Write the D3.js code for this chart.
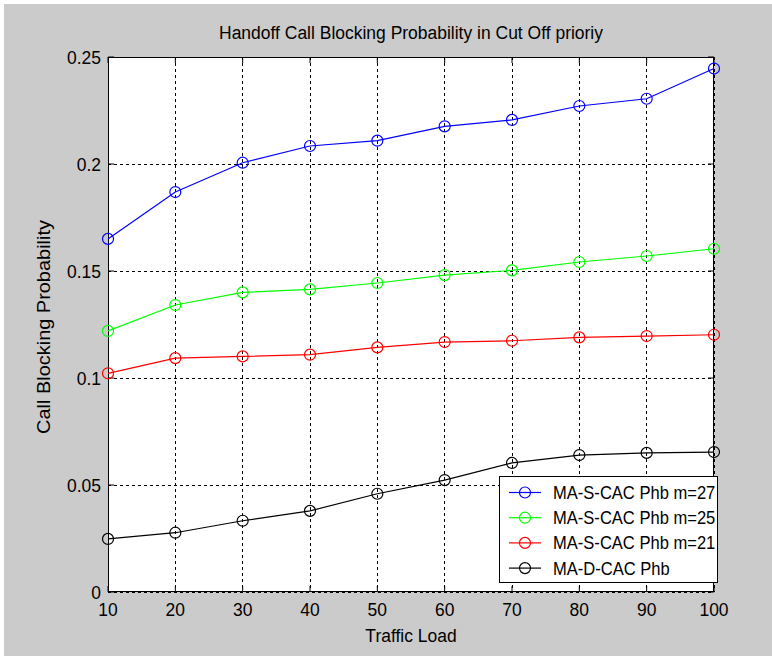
<!DOCTYPE html>
<html><head><meta charset="utf-8">
<script src="https://cdn.jsdelivr.net/npm/d3@7"></script>
<style>body{margin:0;background:#fff}svg{display:block}text{font-family:"Liberation Sans",Arial,sans-serif;fill:#000}</style>
</head><body>
<script>
const trafficLoad = [10,20,30,40,50,60,70,80,90,100];
const phb27 = [0.165,0.1869,0.2006,0.2084,0.2109,0.2176,0.2206,0.2271,0.2305,0.2446];
const phb25 = [0.122,0.1341,0.1400,0.1414,0.1444,0.1481,0.1503,0.1542,0.1570,0.1604];
const phb21 = [0.1022,0.1093,0.1101,0.1109,0.1143,0.1168,0.1174,0.1190,0.1196,0.1202];
const dcac  = [0.0248,0.0277,0.0333,0.0379,0.0459,0.0523,0.0603,0.0640,0.0650,0.0654];
const seriesNames = ["MA-S-CAC Phb m=27","MA-S-CAC Phb m=25","MA-S-CAC Phb m=21","MA-D-CAC Phb"];
const seriesColors = ["#0000ff","#00ff00","#ff0000","#000000"];
const xTicks = [10,20,30,40,50,60,70,80,90,100];
const yTicks = [0,0.05,0.1,0.15,0.2,0.25];
const yTickLabels = ["0","0.05","0.1","0.15","0.2","0.25"];
const title = "Handoff Call Blocking Probability in Cut Off prioriy";
const xLabel = "Traffic Load";
const yLabel = "Call Blocking Probability";

const W=772,H=656;
const L=108,R=714,T=57,B=592;
const SX=0.92;
const svg=d3.select("body").append("svg").attr("width",W).attr("height",H);
svg.append("rect").attr("width",W).attr("height",H).attr("fill","#fff");
svg.append("rect").attr("x",4).attr("y",4).attr("width",W-4).attr("height",H-4).attr("fill","#cbcbcb");

const x=d3.scaleLinear().domain([10,100]).range([L,R]);
const y=d3.scaleLinear().domain([0,0.25]).range([B,T]);

function txt(str,px,py,size,anchor,rot,sx){
  let tr=`translate(${px},${py})`+(rot?` rotate(${rot})`:"")+` scale(${sx||SX},1)`;
  return svg.append("text").attr("transform",tr).attr("text-anchor",anchor||"start").attr("font-size",size).text(str);
}

svg.append("rect").attr("x",L).attr("y",T).attr("width",R-L).attr("height",B-T).attr("fill","#fff");

// grid
const g=svg.append("g");
g.selectAll("line.gx").data(xTicks).join("line").attr("x1",d=>x(d)).attr("x2",d=>x(d)).attr("y1",T).attr("y2",B)
 .attr("stroke","#000").attr("stroke-width",1).attr("stroke-dasharray","3,3").attr("shape-rendering","crispEdges");
g.selectAll("line.gy").data(yTicks).join("line").attr("class","gy").attr("y1",d=>Math.round(y(d))+0.5).attr("y2",d=>Math.round(y(d))+0.5).attr("x1",L).attr("x2",R)
 .attr("stroke","#000").attr("stroke-width",1).attr("stroke-dasharray","3,3");

// ticks inward
const tk=6;
xTicks.forEach(d=>{
  svg.append("line").attr("x1",x(d)).attr("x2",x(d)).attr("y1",B).attr("y2",B-tk).attr("stroke","#000");
  svg.append("line").attr("x1",x(d)).attr("x2",x(d)).attr("y1",T).attr("y2",T+tk).attr("stroke","#000");
});
yTicks.forEach(d=>{
  svg.append("line").attr("x1",L).attr("x2",L+tk).attr("y1",y(d)).attr("y2",y(d)).attr("stroke","#000");
  svg.append("line").attr("x1",R).attr("x2",R-tk).attr("y1",y(d)).attr("y2",y(d)).attr("stroke","#000");
});
svg.append("rect").attr("x",L+0.5).attr("y",T+0.5).attr("width",R-L-1).attr("height",B-T-1).attr("fill","none").attr("stroke","#000");

// series
const allSeries=[phb27,phb25,phb21,dcac];
const line=d3.line().x((d,i)=>x(trafficLoad[i])).y(d=>y(d));
allSeries.forEach((s,k)=>{
  svg.append("path").attr("d",line(s)).attr("fill","none").attr("stroke",seriesColors[k]).attr("stroke-width",1.2);
  svg.selectAll(null).data(s).join("circle").attr("cx",(d,i)=>x(trafficLoad[i])).attr("cy",d=>y(d)).attr("r",5.5)
    .attr("fill","none").attr("stroke",seriesColors[k]).attr("stroke-width",1.2);
});

// tick labels
xTicks.forEach(d=>txt(String(d),x(d),616,19,"middle"));
yTicks.forEach((d,i)=>txt(yTickLabels[i],101,y(d)+7,19,"end"));

// titles
txt(title,411,39,19,"middle");
txt(xLabel,411,642,19,"middle");
txt(yLabel,50,327,19,"middle",-90,1.05);

// legend
const lg=svg.append("g");
lg.append("rect").attr("x",499.5).attr("y",476.5).attr("width",218).attr("height",106).attr("fill","#fff").attr("stroke","#000");
seriesNames.forEach((n,k)=>{
  const ry=492.5+k*25.2;
  lg.append("line").attr("x1",509).attr("x2",541).attr("y1",ry).attr("y2",ry).attr("stroke",seriesColors[k]).attr("stroke-width",1.2);
  lg.append("circle").attr("cx",525).attr("cy",ry).attr("r",5.5).attr("fill","none").attr("stroke",seriesColors[k]).attr("stroke-width",1.2);
  txt(n,553,ry+6.5,18,"start");
});
</script>
</body></html>
